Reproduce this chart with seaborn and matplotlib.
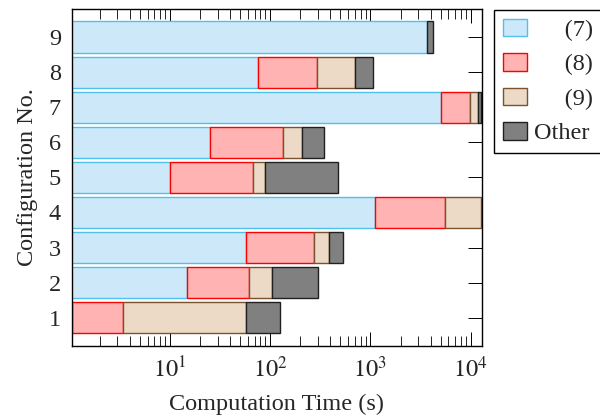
import numpy as np
import pandas as pd
import matplotlib
matplotlib.use("Agg")
import matplotlib.pyplot as plt
import seaborn as sns

# ---- data (seconds per stage, per configuration) ----
configs = [1, 2, 3, 4, 5, 6, 7, 8, 9]
stage7 = [1.07, 15.0, 57.1, 1107, 10.0, 25.0, 5100, 76.6, 3650]
stage8 = [2.37, 47.2, 216, 4413, 57.6, 111, 4760, 220, 0]
stage9 = [53.7, 43.3, 112, 7180, 21.0, 72, 2090, 406, 0]
other = [68, 192.5, 146, 0, 391, 140, 650, 369, 540]

labels = ["(7)", "(8)", "(9)", "Other"]
fills = ["#cde9f9", "#ffb3b3", "#ecd9c6", "#808080"]
edges = ["#4fc1ea", "#ff0000", "#7a5230", "#202020"]

sns.set_theme(style="white")
plt.rcParams["font.family"] = ["Liberation Serif", "DejaVu Serif"]
plt.rcParams["mathtext.fontset"] = "stix"
FS = 17.5
plt.rcParams["font.size"] = FS

segs = ["s7", "s8", "s9", "other"]
df = pd.DataFrame({"config": configs, "s7": stage7, "s8": stage8,
                   "s9": stage9, "other": other})
df["c1"] = df["s7"]
df["c2"] = df["c1"] + df["s8"]
df["c3"] = df["c2"] + df["s9"]
df["c4"] = df["c3"] + df["other"]
cols = ["c1", "c2", "c3", "c4"]

fig = plt.figure(figsize=(6, 4.18), dpi=100)
ax = fig.add_axes([0.12, 0.173, 0.683, 0.805])

for i in range(4):
    n_before = len(ax.containers)
    sns.barplot(data=df, x=segs[i], y="config", orient="h", native_scale=True,
                width=0.9, color=fills[i], edgecolor=edges[i], linewidth=1.0,
                saturation=1, errorbar=None, label=labels[i], ax=ax)
    cont = ax.containers[n_before]
    start = np.zeros(len(df)) if i == 0 else df[cols[i - 1]].to_numpy()
    for p, st, v in zip(cont.patches, start, df[segs[i]].to_numpy()):
        p.set_x(st)
        p.set_width(v)
        if v <= 0:
            p.set_visible(False)
if ax.get_legend() is not None:
    ax.get_legend().remove()

ax.set_xscale("log")
ax.set_xlim(1.06, 12900)
ax.set_ylim(0.2, 9.8)
ax.set_yticks(configs)
ax.set_yticklabels([str(c) for c in configs])
ax.set_xticks([10, 100, 1000, 10000])
ax.set_xticklabels([r"$10^{%d}$" % k for k in range(1, 5)])
ax.set_xlabel("Computation Time (s)", labelpad=8, fontsize=FS)
ax.set_ylabel("Configuration No.", labelpad=8, fontsize=FS)

ax.tick_params(axis="both", which="major", direction="in", length=10,
               width=0.7, color="black", top=True, right=True, bottom=True,
               left=True, pad=8, labelsize=FS)
ax.tick_params(axis="x", which="minor", direction="in", length=7, width=0.6,
               color="black", top=True, bottom=True)
ax.tick_params(axis="y", which="minor", left=False, right=False)
for s in ax.spines.values():
    s.set_color("black")
    s.set_linewidth(1.0)

h, l = ax.get_legend_handles_labels()
order = [l.index(x) for x in labels]
leg = fig.legend([h[k] for k in order], [l[k] for k in order],
                 loc="upper left", bbox_to_anchor=(494 / 600, 1 - 10 / 418),
                 frameon=True, fancybox=False, edgecolor="black",
                 framealpha=1, borderpad=0.35, handlelength=1.0,
                 handleheight=0.75, handletextpad=0.3, labelspacing=0.5,
                 borderaxespad=0, fontsize=FS)
leg.get_frame().set_linewidth(1.0)
for t, lab in zip(leg.get_texts(), labels):
    if lab != "Other":
        t.set_text("     " + lab)

fig.savefig("out.png", dpi=100)
